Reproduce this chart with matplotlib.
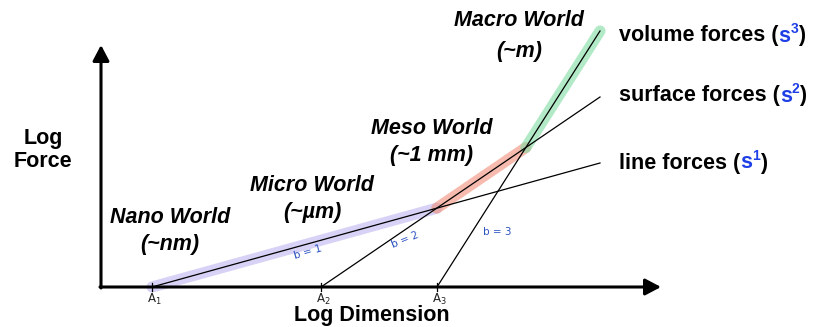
import matplotlib
matplotlib.use("Agg")
import matplotlib.pyplot as plt
import numpy as np

plt.rcParams['font.family'] = ['Liberation Sans', 'DejaVu Sans']

# ---- data (diagram units: origin at the axes corner) ----
anchor_labels = [r"A$_1$", r"A$_2$", r"A$_3$"]
anchor_x = [51, 220, 336]          # x where each force line starts on the axis
line_end_x = 499                   # common end x of the lines
line_end_y = [124, 190, 256]       # end heights of line / surface / volume forces
slope_labels = ["b = 1", "b = 2", "b = 3"]
slope_label_pos = [(207, 35), (304, 47), (396, 55)]
slope_label_rot = [16, 22, 0]
force_names = ["line forces", "surface forces", "volume forces"]
force_exponents = ["1", "2", "3"]
force_label_y = [124, 191, 251]
world_names = ["Nano World\n(~nm)", "Micro World\n(~µm)", "Meso World\n(~1 mm)", "Macro World\n(~m)"]
world_pos = [(69, 56), (211, 88), (331, 145), (418, 251)]
world_spacing = [1.42, 1.42, 1.38, 1.6]
highlight_colors = ["#bdb4f0", "#f08f78", "#7fdca3"]
x_axis_len = 560
y_axis_len = 242

fig = plt.figure(figsize=(8.15, 3.27), dpi=100)
ax = fig.add_axes([0, 0, 1, 1])
ax.set_xlim(-101, 714)
ax.set_ylim(-40, 287)
ax.axis('off')

# lines
slopes = []
for x0, ye in zip(anchor_x, line_end_y):
    slopes.append(ye / (line_end_x - x0))

def intersect(i, j):
    # solve s_i (x - a_i) = s_j (x - a_j)
    x = (slopes[j] * anchor_x[j] - slopes[i] * anchor_x[i]) / (slopes[j] - slopes[i])
    return x, slopes[i] * (x - anchor_x[i])

p12 = intersect(0, 1)
p23 = intersect(1, 2)
segs = [((anchor_x[0], 0), p12), (p12, p23), (p23, (line_end_x, line_end_y[2]))]
for (a, b), c in zip(segs, highlight_colors):
    ax.plot([a[0], b[0]], [a[1], b[1]], color=c, lw=8.0, alpha=0.6,
            solid_capstyle='round', zorder=1)

for x0, ye in zip(anchor_x, line_end_y):
    ax.plot([x0, line_end_x], [0, ye], color='black', lw=0.9, zorder=2)

# axes arrows
ax.annotate("", xy=(x_axis_len, 0), xytext=(-1, 0),
            arrowprops=dict(arrowstyle="-|>,head_length=0.95,head_width=0.5",
                            lw=2.2, color='black', shrinkA=0, shrinkB=0), zorder=3)
ax.annotate("", xy=(0, y_axis_len), xytext=(0, -1),
            arrowprops=dict(arrowstyle="-|>,head_length=0.95,head_width=0.5",
                            lw=2.2, color='black', shrinkA=0, shrinkB=0), zorder=3)

# anchor ticks and labels
for x0, lab in zip(anchor_x, anchor_labels):
    ax.plot([x0, x0], [-4, 4], color='black', lw=0.9, zorder=3)
    ax.text(x0 + 2, -12, lab, ha='center', va='center', fontsize=8.5,
            family='DejaVu Sans', color='#222222')

# slope labels
for lab, (x, y), r in zip(slope_labels, slope_label_pos, slope_label_rot):
    ax.text(x, y, lab, ha='center', va='center', fontsize=7.5, rotation=r,
            color='#2e55c0', family='DejaVu Sans')

# world labels
for name, (x, y), ls in zip(world_names, world_pos, world_spacing):
    ax.text(x, y, name, ha='center', va='center', fontsize=15.5, fontweight='bold',
            fontstyle='italic', linespacing=ls)

# axis titles
ax.text(-58, 137, "Log\nForce", ha='center', va='center', fontsize=15.5,
        fontweight='bold', linespacing=1.15)
ax.text(271, -29, "Log Dimension", ha='center', va='center', fontsize=15.5,
        fontweight='bold')

# force labels with coloured exponent
for name, exp, y in zip(force_names, force_exponents, force_label_y):
    t1 = ax.text(518, y, name + " (", ha='left', va='center', fontsize=15.5,
                 fontweight='bold')
    t2 = ax.annotate("s", xy=(1, 0), xycoords=t1, ha='left', va='bottom',
                     fontsize=15.5, fontweight='bold', color='#1f3fe6')
    t3 = ax.annotate(exp, xy=(1, 0.5), xycoords=t2, ha='left', va='bottom',
                     fontsize=10, fontweight='bold', color='#1f3fe6')
    ax.annotate(")", xy=(1, 0), xycoords=(t3, t2), ha='left', va='bottom',
                fontsize=15.5, fontweight='bold')

fig.savefig("out.png", dpi=100)
